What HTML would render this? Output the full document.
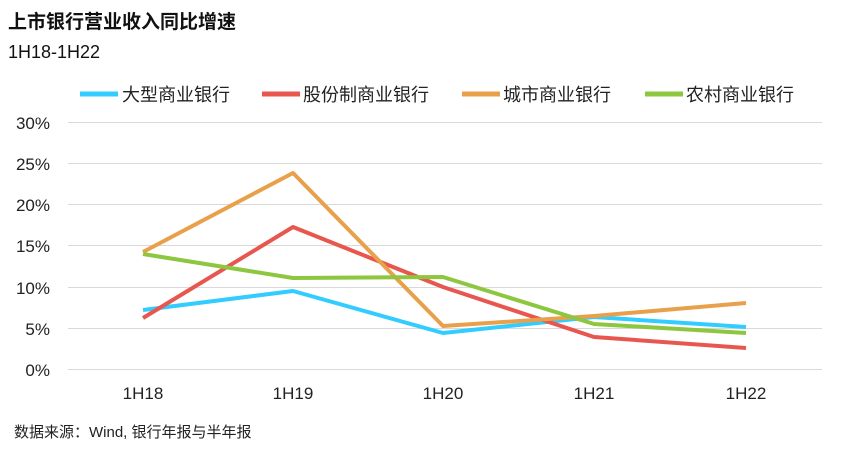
<!DOCTYPE html>
<html><head><meta charset="utf-8"><style>
body{margin:0;background:#fff;}
svg text{font-family:"Liberation Sans","Noto Sans CJK SC",sans-serif;}
</style></head><body>
<svg width="847" height="451" xmlns="http://www.w3.org/2000/svg">
<rect width="847" height="451" fill="#fff"/>
<text x="8" y="28" font-size="19" font-weight="bold" fill="#111">上市银行营业收入同比增速</text>
<text x="8" y="58" font-size="18" fill="#111">1H18-1H22</text>
<g font-size="18" fill="#222">
<line x1="80" y1="94" x2="118" y2="94" stroke="#33CCFF" stroke-width="5"/><text x="122" y="101">大型商业银行</text>
<line x1="262" y1="94" x2="300" y2="94" stroke="#E8574F" stroke-width="5"/><text x="303" y="101">股份制商业银行</text>
<line x1="462" y1="94" x2="500" y2="94" stroke="#E8A04A" stroke-width="5"/><text x="503" y="101">城市商业银行</text>
<line x1="645" y1="94" x2="683" y2="94" stroke="#8DC63F" stroke-width="5"/><text x="686" y="101">农村商业银行</text>
</g>
<g stroke="#d9d9d9" stroke-width="1">
<line x1="68" y1="122.5" x2="822" y2="122.5"/><line x1="68" y1="163.5" x2="822" y2="163.5"/>
<line x1="68" y1="204.5" x2="822" y2="204.5"/><line x1="68" y1="245.5" x2="822" y2="245.5"/>
<line x1="68" y1="287.5" x2="822" y2="287.5"/><line x1="68" y1="328.5" x2="822" y2="328.5"/>
<line x1="68" y1="369.5" x2="822" y2="369.5"/>
</g>
<g font-size="17" fill="#222" text-anchor="end">
<text x="50" y="129">30%</text><text x="50" y="170">25%</text><text x="50" y="211">20%</text>
<text x="50" y="252">15%</text><text x="50" y="294">10%</text><text x="50" y="335">5%</text><text x="50" y="376">0%</text>
</g>
<g font-size="17" fill="#222" text-anchor="middle">
<text x="143" y="399">1H18</text><text x="293" y="399">1H19</text><text x="443" y="399">1H20</text>
<text x="594" y="399">1H21</text><text x="746" y="399">1H22</text>
</g>
<g fill="none" stroke-width="4" stroke-linejoin="round">
<polyline stroke="#33CCFF" points="143,310 293,291 443,333 594,317 746,327"/>
<polyline stroke="#E8574F" points="143,318 293,227 443,287 594,337 746,348"/>
<polyline stroke="#E8A04A" points="143,252 293,173 443,326 594,316 746,303"/>
<polyline stroke="#8DC63F" points="143,254 293,278 443,277 594,324 746,333"/>
</g>
<text x="14" y="437" font-size="15" fill="#222">数据来源：Wind, 银行年报与半年报</text>
</svg>
</body></html>
